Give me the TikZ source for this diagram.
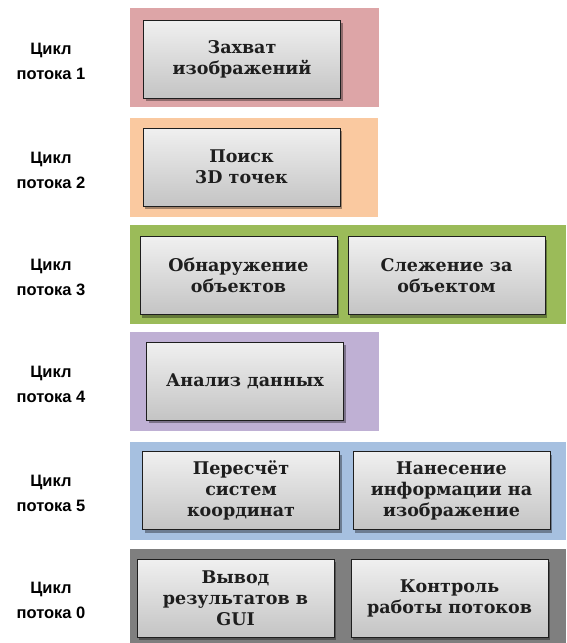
\documentclass[tikz,border=0pt]{standalone}
\usepackage{fontspec}
\setmainfont{DejaVu Serif}
\newfontfamily\lblfont{Liberation Sans}
\usetikzlibrary{shadows}
\definecolor{cpink}{HTML}{DDA5A7}
\definecolor{corange}{HTML}{FAC9A0}
\definecolor{cgreen}{HTML}{9BBB59}
\definecolor{cviolet}{HTML}{BFB0D4}
\definecolor{cblue}{HTML}{A6C0E0}
\definecolor{cgrey}{HTML}{7F7F7F}
\definecolor{boxtop}{HTML}{F0F0F0}
\definecolor{boxbot}{HTML}{C4C4C4}
\definecolor{ink}{HTML}{1E1E1E}
\tikzset{
  band/.style={draw=none, fill=#1, inner sep=0pt, minimum height=99pt},
  blk/.style={draw=ink, line width=1pt, top color=boxtop, bottom color=boxbot,
              align=center, text=ink, font={\bfseries\fontsize{17.5}{21}\selectfont},
              minimum width=197pt, minimum height=78pt, inner sep=2pt,
              drop shadow={shadow xshift=2pt, shadow yshift=-3pt, opacity=0.35, fill=black}},
  lbl/.style={align=center, font={\lblfont\bfseries\fontsize{16.5}{25}\selectfont}},
}

\begin{document}
\begin{tikzpicture}[x=1pt,y=1pt]
\useasboundingbox (0,0) rectangle (566,-643);
% thread 1
\node[band=cpink, minimum width=249pt] (t1) at (254.5,-57.5) {};
\node[blk] (grab) at (242,-59) {Захват\\изображений};
\node[lbl] (l1) at (51,-61) {Цикл\\потока 1};
% thread 2
\node[band=corange, minimum width=248pt] (t2) at (254,-167.5) {};
\node[blk] (pts) at (241.5,-167) {Поиск\\3D точек};
\node[lbl] (l2) at (51,-170) {Цикл\\потока 2};
% thread 3
\node[band=cgreen, minimum width=436pt] (t3) at (348,-274.5) {};
\node[blk] (detect) at (238.5,-275.5) {Обнаружение\\объектов};
\node[blk] (track) at (446.5,-275.5) {Слежение за\\объектом};
\node[lbl] (l3) at (51,-277) {Цикл\\потока 3};
% thread 4
\node[band=cviolet, minimum width=249pt] (t4) at (254.5,-381.5) {};
\node[blk] (anal) at (245,-381) {Анализ данных};
\node[lbl] (l4) at (51,-384) {Цикл\\потока 4};
% thread 5
\node[band=cblue, minimum width=436pt, minimum height=98pt] (t5) at (348,-491) {};
\node[blk] (coord) at (241,-490.5) {Пересчёт\\систем\\координат};
\node[blk] (overlay) at (451.5,-490.5) {Нанесение\\информации на\\изображение};
\node[lbl] (l5) at (51,-493) {Цикл\\потока 5};
% thread 0
\node[band=cgrey, minimum width=436pt, minimum height=94pt] (t0) at (348,-596) {};
\node[blk] (gui) at (235.5,-598) {Вывод\\результатов в\\GUI};
\node[blk] (ctrl) at (449.5,-598) {Контроль\\работы потоков};
\node[lbl] (l0) at (51,-600) {Цикл\\потока 0};
\end{tikzpicture}
\end{document}
